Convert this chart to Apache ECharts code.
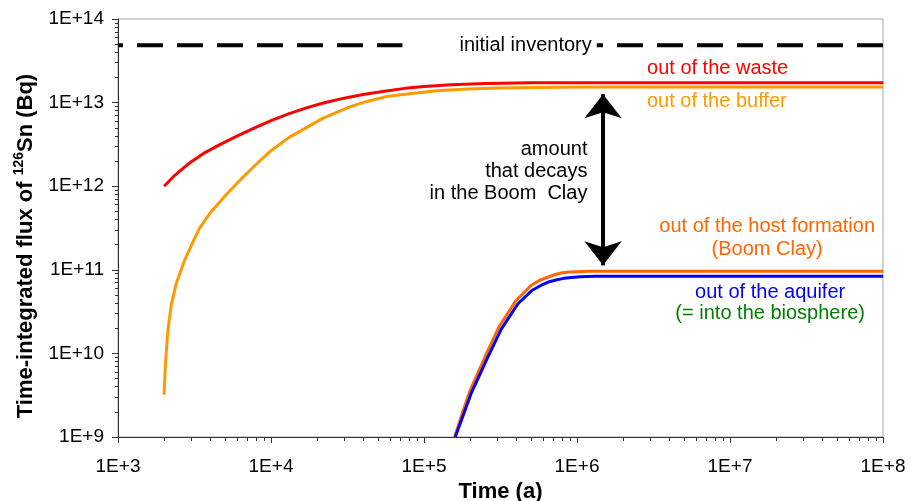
<!DOCTYPE html>
<html>
<head>
<meta charset="utf-8">
<script src="https://cdn.jsdelivr.net/npm/echarts@6/dist/echarts.min.js"></script>
<style>
  html, body { margin: 0; padding: 0; background: #ffffff; }
  #chart { width: 911px; height: 501px; }
</style>
</head>
<body>
<div id="chart"></div>
<script>
// Time-integrated flux of Sn-126 leaving each barrier (Bq), time in years

const wasteTime = [2000, 2300, 2660, 3000, 3600, 4500, 5800, 7500, 1e4, 1.3e4, 1.7e4, 2.2e4, 3e4, 4e4, 5.5e4, 7.5e4, 1e5, 1.5e5, 2.5e5, 5e5, 1e6, 1e7, 1e8];
const wasteFlux = [1.0e12, 1.3e12, 1.63e12, 1.95e12, 2.45e12, 3.06e12, 3.86e12, 4.82e12, 6.07e12, 7.33e12, 8.65e12, 9.89e12, 1.13e13, 1.25e13, 1.37e13, 1.48e13, 1.56e13, 1.63e13, 1.69e13, 1.73e13, 1.73e13, 1.73e13, 1.73e13];

const bufferTime = [2000, 2030, 2070, 2120, 2230, 2400, 2700, 3000, 3400, 4000, 5000, 6500, 8000, 1e4, 1.32e4, 1.66e4, 2.19e4, 3.27e4, 4.29e4, 5.68e4, 8.05e4, 1.21e5, 1.93e5, 3.12e5, 7.7e5, 1.5e6, 1e7, 1e8];
const bufferFlux = [3.2e9, 6.0e9, 1.09e10, 1.9e10, 3.8e10, 6.8e10, 1.25e11, 1.92e11, 3.1e11, 4.78e11, 7.64e11, 1.26e12, 1.83e12, 2.66e12, 3.86e12, 4.89e12, 6.52e12, 8.88e12, 1.04e13, 1.18e13, 1.28e13, 1.39e13, 1.45e13, 1.49e13, 1.53e13, 1.54e13, 1.54e13, 1.54e13];

const hostTime = [1.585e5, 1.8e5, 2e5, 2.5e5, 3.1e5, 4e5, 5e5, 5.7e5, 6.5e5, 7.2e5, 8e5, 9e5, 1e6, 1.2e6, 1.5e6, 1e7, 1e8];
const hostFlux = [1e9, 2.05e9, 3.6e9, 9.0e9, 2.1e10, 4.3e10, 6.5e10, 7.5e10, 8.2e10, 8.8e10, 9.2e10, 9.4e10, 9.5e10, 9.6e10, 9.6e10, 9.6e10, 9.6e10];

const aquiferTime = [1.6e5, 1.8e5, 2.03e5, 2.55e5, 3.2e5, 4.1e5, 5.1e5, 5.8e5, 6.6e5, 7.4e5, 8.2e5, 9.2e5, 1.05e6, 1.3e6, 1.6e6, 1e7, 1e8];
const aquiferFlux = [1e9, 1.8e9, 3.3e9, 8.2e9, 1.95e10, 3.9e10, 5.7e10, 6.5e10, 7.2e10, 7.6e10, 7.9e10, 8.1e10, 8.25e10, 8.35e10, 8.4e10, 8.4e10, 8.4e10];

const initialInventory = 4.85e13;

// double-headed arrow: amount that decays in the Boom Clay
const decayArrowTime = 1.48e6;
const decayArrowFrom = 1.13e11;
const decayArrowTo = 1.26e13;

// axis ticks
const timeDecades = [1e3, 1e4, 1e5, 1e6, 1e7, 1e8];
const fluxDecades = [1e9, 1e10, 1e11, 1e12, 1e13, 1e14];

function minorsOf(decades) {
  const out = [];
  for (let i = 0; i < decades.length - 1; i++) {
    for (let k = 2; k <= 9; k++) out.push(decades[i] * k);
  }
  return out;
}
const timeMinor = minorsOf(timeDecades);
const fluxMinor = minorsOf(fluxDecades);

const pairs = (xs, ys) => xs.map((x, i) => [x, ys[i]]);
const sci = v => '1E+' + Math.round(Math.log10(v));

const FONT = '"Liberation Sans", Arial, Helvetica, sans-serif';
const AXIS_COLOR = '#333333';

const chart = echarts.init(document.getElementById('chart'), null, { renderer: 'canvas' });

const labelBase = { fontFamily: FONT, fontSize: 20 };
const curve = { type: 'line', symbol: 'none', silent: true };

const option = {
  animation: false,
  backgroundColor: '#ffffff',
  grid: {
    left: 118, right: 28, top: 19, bottom: 64,
    containLabel: false, outerBoundsMode: 'none',
    show: true, borderColor: '#a6a6a6', borderWidth: 1, backgroundColor: 'transparent'
  },
  xAxis: [
    {
      type: 'log', logBase: 10, min: 1e3, max: 1e8, position: 'bottom',
      axisLine: { show: true, lineStyle: { color: AXIS_COLOR, width: 1 } },
      axisTick: { show: true, length: 6, customValues: timeDecades, lineStyle: { color: AXIS_COLOR } },
      axisLabel: { customValues: timeDecades, formatter: sci, color: '#000', fontFamily: FONT, fontSize: 19, margin: 20 },
      splitLine: { show: false },
      name: 'Time (a)', nameLocation: 'middle', nameGap: 41,
      nameTextStyle: { color: '#000', fontFamily: FONT, fontSize: 22, fontWeight: 'bold' }
    },
    {
      type: 'log', logBase: 10, min: 1e3, max: 1e8, position: 'bottom',
      axisLine: { show: false },
      axisTick: { show: true, length: 4, customValues: timeMinor, lineStyle: { color: AXIS_COLOR } },
      axisLabel: { show: false },
      splitLine: { show: false }
    }
  ],
  yAxis: [
    {
      type: 'log', logBase: 10, min: 1e9, max: 1e14, position: 'left',
      axisLine: { show: true, lineStyle: { color: AXIS_COLOR, width: 1 } },
      axisTick: { show: true, length: 6, customValues: fluxDecades, lineStyle: { color: AXIS_COLOR } },
      axisLabel: { customValues: fluxDecades, formatter: sci, color: '#000', fontFamily: FONT, fontSize: 19, margin: 14 },
      splitLine: { show: false },
      name: '{t|Time-integrated flux of }{s|126}{t|Sn (Bq)}',
      nameLocation: 'middle', nameGap: 79, nameRotate: 90,
      nameTextStyle: {
        padding: [0, 36, 0, 0],
        rich: {
          t: { color: '#000', fontFamily: FONT, fontSize: 22, fontWeight: 'bold', lineHeight: 27 },
          s: { color: '#000', fontFamily: FONT, fontSize: 14, fontWeight: 'bold', lineHeight: 15, verticalAlign: 'top' }
        }
      }
    },
    {
      type: 'log', logBase: 10, min: 1e9, max: 1e14, position: 'left',
      axisLine: { show: false },
      axisTick: { show: true, length: 3, customValues: fluxMinor, lineStyle: { color: AXIS_COLOR } },
      axisLabel: { show: false },
      splitLine: { show: false }
    }
  ],
  series: [
    {
      name: 'initial inventory', type: 'line', xAxisIndex: 0, yAxisIndex: 0,
      data: [[timeDecades[0], initialInventory], [timeDecades[timeDecades.length - 1], initialInventory]],
      symbol: 'none', silent: true,
      lineStyle: { color: '#000', width: 4, type: [26, 14], dashOffset: 21 },
      markLine: {
        silent: true,
        symbol: ['arrow', 'arrow'],
        symbolSize: [28, 24],
        label: { show: false },
        lineStyle: { color: '#000', width: 4, type: 'solid' },
        data: [[{ coord: [decayArrowTime, decayArrowFrom] }, { coord: [decayArrowTime, decayArrowTo] }]]
      },
      z: 2
    },
    { ...curve, name: 'out of the buffer', data: pairs(bufferTime, bufferFlux),
      lineStyle: { color: '#FF9900', width: 3 }, z: 3 },
    { ...curve, name: 'out of the waste', data: pairs(wasteTime, wasteFlux),
      lineStyle: { color: '#FF0000', width: 3 }, z: 4 },
    { ...curve, name: 'out of the host formation', data: pairs(hostTime, hostFlux),
      lineStyle: { color: '#FF6600', width: 3 }, z: 3 },
    { ...curve, name: 'out of the aquifer', data: pairs(aquiferTime, aquiferFlux),
      lineStyle: { color: '#0000FF', width: 3 }, z: 4 },
    {
      name: 'notes', type: 'scatter', symbolSize: 0, silent: true, z: 6,
      itemStyle: { opacity: 1 },
      data: [
        {
          value: [3.12e5, initialInventory],
          label: { show: true, position: 'inside', formatter: 'initial inventory', color: '#000', opacity: 1,
                   backgroundColor: '#fff', padding: [4, 5, 2, 57], ...labelBase }
        },
        {
          value: [8.3e6, 2.59e13],
          label: { show: true, position: 'inside', formatter: 'out of the waste', color: '#FF0000', ...labelBase }
        },
        {
          value: [8.2e6, 1.02e13],
          label: { show: true, position: 'inside', formatter: 'out of the buffer', color: '#FF9900', ...labelBase }
        },
        {
          value: [1.17e6, 1.51e12],
          label: { show: true, position: 'inside', align: 'right', lineHeight: 22,
                   formatter: 'amount\nthat decays\nin the Boom  Clay', color: '#000', ...labelBase }
        },
        {
          value: [1.75e7, 2.37e11],
          label: { show: true, position: 'inside', align: 'center', lineHeight: 23,
                   formatter: 'out of the host formation\n(Boom Clay)', color: '#FF6600', ...labelBase }
        },
        {
          value: [1.83e7, 4.06e10],
          label: {
            show: true, position: 'inside', align: 'center',
            formatter: '{b|out of the aquifer}\n{g|(= into the biosphere)}',
            rich: {
              b: { color: '#0000FF', fontFamily: FONT, fontSize: 20, lineHeight: 21 },
              g: { color: '#008000', fontFamily: FONT, fontSize: 20, lineHeight: 21 }
            }
          }
        }
      ]
    }
  ]
};

chart.setOption(option);
</script>
</body>
</html>
